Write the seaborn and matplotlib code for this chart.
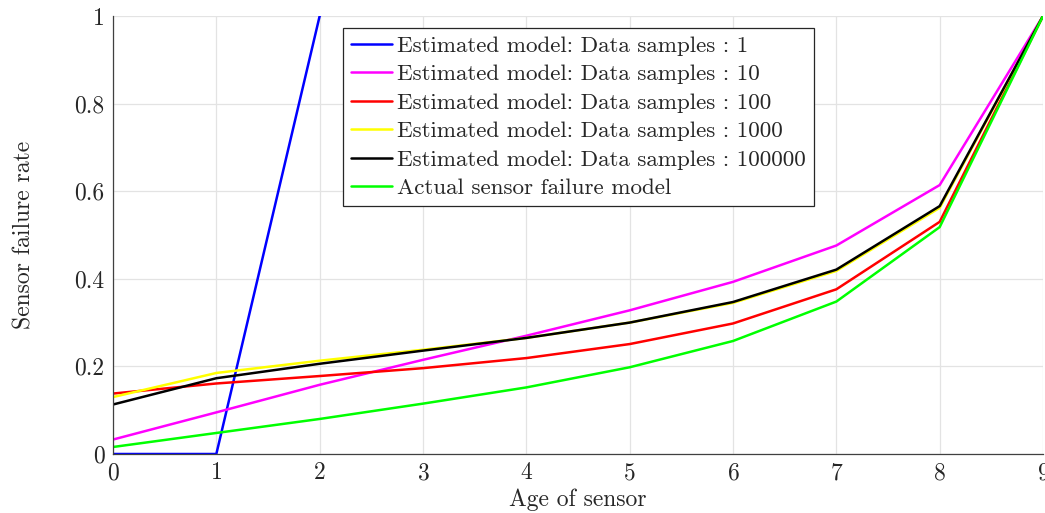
import matplotlib
matplotlib.use("Agg")
import matplotlib.pyplot as plt
import seaborn as sns
import pandas as pd
from matplotlib.ticker import FuncFormatter

age = [0, 1, 2, 3, 4, 5, 6, 7, 8, 9]
est_1 = [0.0, 0.0, 1.0, 1.3, 1.6, 1.9, 2.2, 2.5, 2.8, 3.1]
est_10 = [0.033, 0.095, 0.158, 0.215, 0.270, 0.328, 0.393, 0.476, 0.614, 1.0]
est_100 = [0.138, 0.161, 0.178, 0.196, 0.219, 0.251, 0.298, 0.376, 0.530, 1.0]
est_1000 = [0.130, 0.185, 0.213, 0.238, 0.265, 0.300, 0.345, 0.418, 0.562, 1.0]
est_100000 = [0.113, 0.173, 0.206, 0.236, 0.265, 0.300, 0.347, 0.421, 0.566, 1.0]
actual = [0.016, 0.048, 0.080, 0.115, 0.152, 0.198, 0.258, 0.348, 0.518, 1.0]

labels = [
    "Estimated model: Data samples : 1",
    "Estimated model: Data samples : 10",
    "Estimated model: Data samples : 100",
    "Estimated model: Data samples : 1000",
    "Estimated model: Data samples : 100000",
    "Actual sensor failure model",
]
colors = ["#0000ff", "#ff00ff", "#ff0000", "#ffff00", "#000000", "#00ff00"]
series = [est_1, est_10, est_100, est_1000, est_100000, actual]

rows = []
for lab, vals in zip(labels, series):
    for a, v in zip(age, vals):
        rows.append({"age": a, "rate": v, "model": lab})
df = pd.DataFrame(rows)

sns.set_theme(style="white")
plt.rcParams["font.family"] = ["cmr10", "DejaVu Serif"]
plt.rcParams["mathtext.fontset"] = "cm"
plt.rcParams["axes.formatter.use_mathtext"] = True

FS = 17
LFS = 16.6

fig = plt.figure(figsize=(10.45, 5.13), dpi=100)
ax = fig.add_axes([113 / 1045, 1 - 454 / 513, 930 / 1045, 438 / 513])

sns.lineplot(data=df, x="age", y="rate", hue="model", hue_order=labels,
             palette=dict(zip(labels, colors)), linewidth=1.8, ax=ax,
             estimator=None, sort=False)

ax.set_xlim(0, 9)
ax.set_ylim(0, 1)
ax.set_xticks(age)
ax.set_yticks([0, 0.2, 0.4, 0.6, 0.8, 1.0])
ax.yaxis.set_major_formatter(FuncFormatter(lambda v, p: "%g" % v))
ax.grid(True, color="#e3e3e3", linewidth=0.9)
ax.set_axisbelow(True)
for s in ["top", "right"]:
    ax.spines[s].set_visible(False)
for s in ["left", "bottom"]:
    ax.spines[s].set_color("#404040")
    ax.spines[s].set_linewidth(0.9)
ax.tick_params(direction="in", length=5, width=0.9, color="#404040",
               labelsize=FS, labelcolor="#262626", pad=6)
ax.set_xlabel("Age of sensor", fontsize=FS, color="#262626", labelpad=3)
ax.set_ylabel("Sensor failure rate", fontsize=FS, color="#262626", labelpad=28)

leg = ax.legend(loc="upper left", bbox_to_anchor=(0.247, 0.973), fontsize=LFS,
                frameon=True, fancybox=False, framealpha=1, edgecolor="#262626",
                handlelength=1.8, handletextpad=0.2, borderpad=0.35,
                labelspacing=0.36, borderaxespad=0)
leg.get_frame().set_linewidth(0.9)
for t in leg.get_texts():
    t.set_color("#262626")

fig.savefig("out.png", dpi=100)
